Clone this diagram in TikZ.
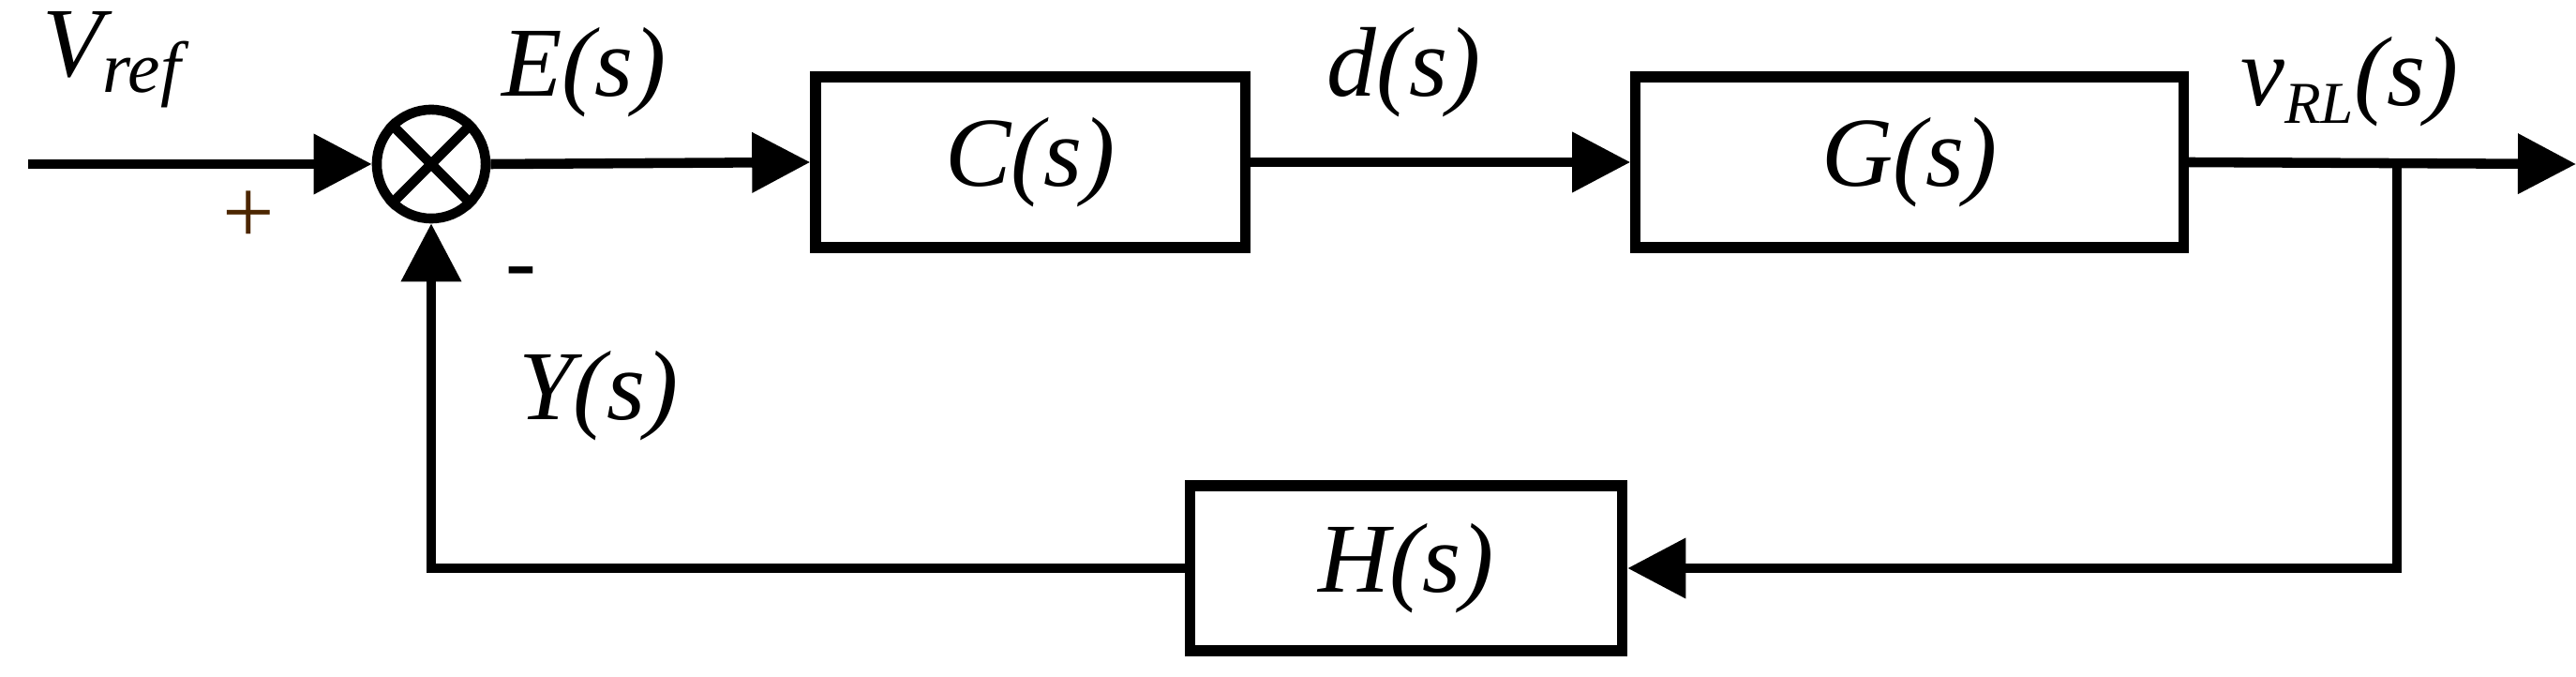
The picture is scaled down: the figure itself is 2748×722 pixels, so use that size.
\documentclass[tikz,border=0pt]{standalone}
\usepackage{fontspec}
\setmainfont{Liberation Serif}
\usetikzlibrary{arrows.meta}
\begin{document}
\begin{tikzpicture}[x=0.01cm,y=-0.01cm,
  line width=3pt,
  arr/.style={-{Triangle[length=0.62cm,width=0.62cm]}},
  blk/.style={draw,line width=3.2pt,minimum width=#1,minimum height=1.82cm,inner sep=0pt},
  lbl/.style={font=\fontsize{30}{36}\selectfont\itshape,inner sep=0pt}]
\useasboundingbox (0,0) rectangle (2748,722);
\node[circle,draw,line width=3pt,minimum size=1.16cm,inner sep=0pt] (sum) at (460,175) {};
\draw (sum.north west) -- (sum.south east) (sum.north east) -- (sum.south west);
\node[blk=4.58cm] (C) at (1099,173) {};
\node[lbl] at (C) {C(s)};
\node[blk=5.84cm] (G) at (2037,173) {};
\node[lbl] at (G) {G(s)};
\node[blk=4.61cm,minimum height=1.76cm] (H) at (1500,606) {};
\node[lbl] at (H) {H(s)};
\coordinate (in) at (30,175);
\coordinate (out) at (2748,175);
\coordinate (br) at (2557,175);
\coordinate (fb) at (460,608);
\draw[arr] (in) -- (sum.west);
\draw[arr] (sum.east) -- (C.west);
\draw[arr] (C.east) -- (G.west);
\draw[arr] (G.east) -- (out);
\draw[arr] (br) |- (H.east);
\draw[arr] (H.west) -| (sum.south);
\node[lbl,anchor=south west] (vref) at (40,120) {V\raisebox{-0.35ex}{\fontsize{22}{24}\selectfont ref}};
\node[lbl,anchor=south west] (es) at (530,130) {E(s)};
\node[lbl,anchor=south west] (ds) at (1410,130) {d(s)};
\node[lbl,anchor=south west] (vrl) at (2385,140) {v\raisebox{-0.4ex}{\fontsize{18}{20}\selectfont RL}(s)};
\node[lbl,anchor=south west] (ys) at (548,475) {Y(s)};
\node[font=\fontsize{28}{30}\selectfont,text=black!50!orange!60!black] (plus) at (265,232) {+};
\node[font=\fontsize{28}{30}\selectfont] (minus) at (556,298) {-};
\end{tikzpicture}
\end{document}
